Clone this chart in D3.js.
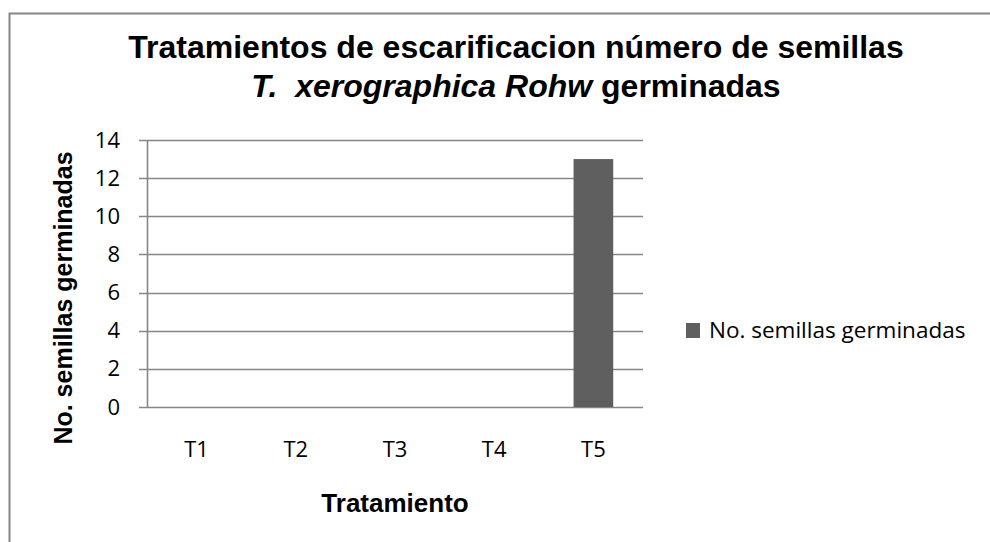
<!DOCTYPE html>
<html>
<head>
<meta charset="utf-8">
<script src="https://cdnjs.cloudflare.com/ajax/libs/d3/7.8.5/d3.min.js"></script>
<style>
body{margin:0;background:#fff}
svg{display:block}
</style>
</head>
<body>
<div id="chart"></div>
<script>
var categories = ["T1","T2","T3","T4","T5"]
var values = [0,0,0,0,13]
var yTicks = [0,2,4,6,8,10,12,14]
var seriesName = "No. semillas germinadas"
var titleLine1 = "Tratamientos de escarificacion número de semillas"
var titleItalic = "T.  xerographica Rohw"
var titleRest = " germinadas"
var xTitle = "Tratamiento"
var yTitle = "No. semillas germinadas"

var width = 990
var height = 542
var plotLeft = 147, plotRight = 643, plotTop = 140, plotBottom = 407
var gray = "#868686"
var sans = "'Open Sans', sans-serif"
var arial = "'Liberation Sans', Arial, sans-serif"

var svg = d3.select("#chart").append("svg")
	.attr("width",width)
	.attr("height",height)

// chart frame (runs off the right and bottom edge)
svg.append("rect")
	.attr("x",9.5).attr("y",13.5)
	.attr("width",1100).attr("height",600)
	.attr("fill","#fff")
	.attr("stroke",gray)
	.attr("stroke-width",2)

var xScale = d3.scaleBand().domain(categories).range([plotLeft,plotRight])
	.paddingInner(0.6).paddingOuter(0.3)
var yScale = d3.scaleLinear().domain([0,14]).range([plotBottom,plotTop])

// gridlines
svg.append("g").selectAll("line")
	.data(yTicks)
	.enter()
	.append("line")
	.attr("x1",plotLeft-8).attr("x2",plotRight)
	.attr("y1",function(d){return Math.round(yScale(d))+0.5})
	.attr("y2",function(d){return Math.round(yScale(d))+0.5})
	.attr("stroke",gray)
	.attr("stroke-width",1.6)

// y axis
var yAxis = d3.axisLeft(yScale).tickValues(yTicks).tickSize(0).tickPadding(27)
var yG = svg.append("g").attr("transform","translate("+plotLeft+",0)").call(yAxis)
yG.select(".domain").remove()
yG.selectAll("text").attr("font-family",sans).attr("font-size",22).attr("fill","#000")
svg.append("line")
	.attr("x1",plotLeft+0.5).attr("x2",plotLeft+0.5)
	.attr("y1",plotTop).attr("y2",plotBottom)
	.attr("stroke",gray).attr("stroke-width",1.6)

// x axis labels
var xAxis = d3.axisBottom(xScale).tickSize(0).tickPadding(34)
var xG = svg.append("g").attr("transform","translate(0,"+plotBottom+")").call(xAxis)
xG.select(".domain").remove()
xG.selectAll("text").attr("font-family",sans).attr("font-size",22).attr("fill","#000")

// bars
svg.append("g").selectAll("rect")
	.data(values)
	.enter()
	.append("rect")
	.attr("x",function(d,i){return xScale(categories[i])})
	.attr("y",function(d){return yScale(d)})
	.attr("width",xScale.bandwidth())
	.attr("height",function(d){return yScale(0)-yScale(d)})
	.attr("fill","#5f5f5f")

// title
var title = svg.append("text")
	.attr("text-anchor","middle")
	.attr("font-family",arial)
	.attr("font-weight","bold")
	.attr("font-size",32)
	.attr("fill","#000")
	.style("white-space","pre")
title.append("tspan").attr("x",516).attr("y",58).text(titleLine1)
var t2 = title.append("tspan").attr("x",516).attr("y",97)
t2.append("tspan").attr("font-style","italic").text(titleItalic)
t2.append("tspan").text(titleRest)

// axis titles
svg.append("text")
	.attr("x",(plotLeft+plotRight)/2).attr("y",512)
	.attr("text-anchor","middle")
	.attr("font-family",arial).attr("font-weight","bold").attr("font-size",26)
	.text(xTitle)
svg.append("text")
	.attr("transform","translate(72,"+(298)+") rotate(-90)")
	.attr("text-anchor","middle")
	.attr("font-family",arial).attr("font-weight","bold").attr("font-size",25)
	.text(yTitle)

// legend
svg.append("rect")
	.attr("x",686).attr("y",323).attr("width",14).attr("height",15)
	.attr("fill","#5f5f5f")
svg.append("text")
	.attr("x",709).attr("y",338)
	.attr("font-family",sans).attr("font-size",22.5)
	.text(seriesName)
</script>
</body>
</html>
